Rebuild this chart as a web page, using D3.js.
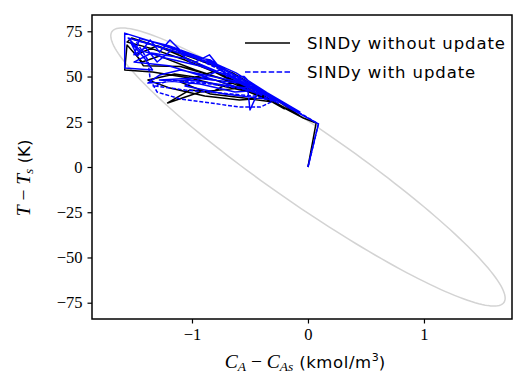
<!DOCTYPE html>
<html>
<head>
<meta charset="utf-8">
<script src="https://cdn.jsdelivr.net/npm/d3@7"></script>
<style>
  body { margin: 0; background: #fff; }
  svg { display: block; }
</style>
</head>
<body>
<svg id="chart" width="513" height="374"></svg>
<script>
const WIDTH = 513
const HEIGHT = 374

// Data (C_A - C_As, T - T_s)
const xTicks = [-1, 0, 1]
const yTicks = [-75, -50, -25, 0, 25, 50, 75]

// SINDy without update
const noUpdateX = [0, 0.07, -0.04, -0.40, -0.67, -0.97, -1.28, -1.52, -1.56, -1.36, -1.06, -0.72, -0.37, -0.59, -0.89, -1.19, -1.38, -1.15, -0.80, -0.50, -0.74, -1.02, -1.34, -1.58, -1.56, -1.43, -1.28, -0.97, -0.66, -0.83, -1.02, -1.21, -0.93, -0.59, -0.30, -0.55, -0.84, -1.10, -0.80, -0.46, -0.26, -0.07, -0.30, -0.65, -1.00, -1.30, -1.48, -1.42, -1.10, -0.75, -0.42, -0.20]
const noUpdateY = [0, 24.3, 27.1, 39.2, 48.1, 58.0, 66.3, 71.3, 69.1, 65.7, 59.1, 50.3, 38.1, 37.0, 39.2, 43.6, 48.1, 51.4, 48.1, 41.4, 44.8, 49.2, 52.5, 53.6, 67.4, 58.0, 61.3, 53.6, 47.0, 41.4, 42.5, 35.4, 41.4, 43.6, 35.9, 38.1, 40.3, 47.0, 53.0, 42.5, 34.8, 28.2, 38.5, 52.0, 60.5, 67.0, 62.0, 56.0, 55.5, 49.0, 40.0, 32.0]

// closed-loop trajectory (solid blue)
const closedX = [0, 0.09, -0.16, -0.48, -0.72, -0.97, -1.28, -1.58, -1.58, -1.34, -1.41, -1.53, -1.47, -1.36, -1.28, -1.19, -1.06, -0.84, -0.67, -0.50, -0.76, -1.10, -1.28, -1.38, -1.02, -0.67, -0.52, -0.50, -0.43, -0.59, -0.93, -1.23, -1.45, -1.55, -1.19, -0.80, -0.40, -0.63, -0.93, -1.28, -0.97, -0.59, -0.28, -0.72, -1.06, -0.76, -0.33, -0.07, -0.35, -0.62, -0.90, -1.20, -1.45, -1.50, -1.40, -1.30, -1.15, -1.00, -0.85, -0.70, -0.55, -0.40, -0.60, -0.90, -1.20, -1.50, -1.35, -1.05, -0.75, -0.45, -0.25]
const closedY = [0, 23.8, 32.6, 45.3, 53.6, 60.8, 68.0, 74.0, 54.7, 53.6, 60.2, 69.1, 61.3, 70.2, 63.5, 70.2, 61.9, 59.1, 51.9, 45.9, 49.2, 53.6, 50.8, 46.4, 48.1, 44.8, 43.6, 31.5, 41.4, 48.1, 55.8, 60.2, 64.6, 71.3, 64.6, 56.9, 42.5, 41.4, 45.9, 48.1, 49.2, 46.4, 37.0, 40.3, 44.8, 53.6, 39.2, 30.4, 41.0, 52.0, 60.0, 67.0, 71.0, 62.0, 66.0, 58.0, 66.0, 57.0, 62.0, 50.0, 50.0, 40.0, 44.0, 50.0, 56.0, 58.0, 63.0, 60.0, 52.0, 43.0, 35.0]

// SINDy with update
const updateX = [0, 0.09, -0.48, -0.97, -1.36, -1.49, -1.38, -1.36, -1.30, -1.10, -0.84, -0.59, -0.41, -0.30, -0.46, -0.76, -1.06, -1.32, -1.19, -0.84, -0.50, -0.28]
const updateY = [0, 23.8, 45.3, 60.2, 68.0, 70.2, 59.1, 48.1, 41.4, 37.6, 35.4, 33.1, 33.1, 36.5, 39.2, 40.9, 42.5, 44.8, 48.1, 45.9, 42.5, 35.9]

// constraint ellipse
const ellipseHalfX = 1.70
const ellipseMajorY = -72.5
const ellipseMinorY = 25.5

const seriesNames = ["SINDy without update", "SINDy with update"]

// Scales
const margin = { top: 15, right: 1, bottom: 55, left: 92 }
const x = d3.scaleLinear([-1.862, 1.759], [margin.left, WIDTH - margin.right])
const y = d3.scaleLinear([-84, 84], [HEIGHT - margin.bottom, margin.top])

const svg = d3.select("#chart")
const plot = svg.append("g")

const line = d3.line().x(d => x(d[0])).y(d => y(d[1]))

// Ellipse
const ellipsePts = d3.range(0, 361, 2).map(deg => {
  const t = deg * Math.PI / 180
  return [ellipseHalfX * Math.cos(t), ellipseMajorY * Math.cos(t) + ellipseMinorY * Math.sin(t)]
})
plot.append("path")
  .attr("d", line(ellipsePts))
  .attr("fill", "none")
  .attr("stroke", "#d3d3d3")
  .attr("stroke-width", 1.5)

const zip = (X, Y) => X.map((v, i) => [v, Y[i]])

plot.append("path")
  .attr("d", line(zip(noUpdateX, noUpdateY)))
  .attr("fill", "none")
  .attr("stroke", "#000")
  .attr("stroke-width", 1.5)
  .attr("stroke-linejoin", "round")

plot.append("path")
  .attr("d", line(zip(closedX, closedY)))
  .attr("fill", "none")
  .attr("stroke", "#0000ff")
  .attr("stroke-width", 1.5)
  .attr("stroke-linejoin", "round")

plot.append("path")
  .attr("d", line(zip(updateX, updateY)))
  .attr("fill", "none")
  .attr("stroke", "#0000ff")
  .attr("stroke-width", 1.5)
  .attr("stroke-dasharray", "4,1.8")

// Axes
const serif = "'Liberation Serif', 'DejaVu Serif', serif"
const sans = "'DejaVu Sans', sans-serif"
const fmt = d => (d < 0 ? "\u2212" + Math.abs(d) : String(d))

const xAxis = svg.append("g")
  .attr("transform", `translate(0,${HEIGHT - margin.bottom})`)
  .call(d3.axisBottom(x).tickValues(xTicks).tickSize(4.5).tickPadding(5).tickFormat(fmt))
const yAxis = svg.append("g")
  .attr("transform", `translate(${margin.left},0)`)
  .call(d3.axisLeft(y).tickValues(yTicks).tickSize(4.5).tickPadding(5).tickFormat(fmt))

for (const g of [xAxis, yAxis]) {
  g.select(".domain").remove()
  g.selectAll(".tick line").attr("stroke", "#000").attr("stroke-width", 1.2)
  g.selectAll(".tick text").attr("font-family", serif).attr("font-size", 16.5).attr("fill", "#000")
}

svg.append("rect")
  .attr("x", margin.left)
  .attr("y", margin.top)
  .attr("width", WIDTH - margin.right - margin.left)
  .attr("height", HEIGHT - margin.bottom - margin.top)
  .attr("fill", "none")
  .attr("stroke", "#000")
  .attr("stroke-width", 1.5)

// Axis labels
const xl = svg.append("text")
  .attr("x", (margin.left + WIDTH - margin.right) / 2 + 3)
  .attr("y", 368)
  .attr("text-anchor", "middle")
  .attr("font-size", 19.5)
  .attr("fill", "#000")
xl.append("tspan").attr("font-family", serif).attr("font-style", "italic").text("C")
xl.append("tspan").attr("font-family", serif).attr("font-style", "italic").attr("font-size", 13.5).attr("dy", 3).text("A")
xl.append("tspan").attr("font-family", serif).attr("dy", -3).text(" \u2212 ")
xl.append("tspan").attr("font-family", serif).attr("font-style", "italic").text("C")
xl.append("tspan").attr("font-family", serif).attr("font-style", "italic").attr("font-size", 13.5).attr("dy", 3).text("As")
xl.append("tspan").attr("font-family", sans).attr("font-size", 16.5).attr("dy", -3).attr("letter-spacing", 0.6).text(" (kmol/m")
xl.append("tspan").attr("font-family", sans).attr("font-size", 11).attr("dy", -7).text("3")
xl.append("tspan").attr("font-family", sans).attr("font-size", 16.5).attr("dy", 7).text(")")

const yl = svg.append("text")
  .attr("transform", `translate(30,${(margin.top + HEIGHT - margin.bottom) / 2 + 11}) rotate(-90)`)
  .attr("text-anchor", "middle")
  .attr("font-size", 19.5)
  .attr("fill", "#000")
yl.append("tspan").attr("font-family", serif).attr("font-style", "italic").text("T")
yl.append("tspan").attr("font-family", serif).text(" \u2212 ")
yl.append("tspan").attr("font-family", serif).attr("font-style", "italic").text("T")
yl.append("tspan").attr("font-family", serif).attr("font-style", "italic").attr("font-size", 13.5).attr("dy", 3).text("s")
yl.append("tspan").attr("font-family", sans).attr("font-size", 16.5).attr("dy", -3).text(" (K)")

// Legend
const legend = svg.append("g").attr("transform", "translate(245,43)")
seriesNames.forEach((name, i) => {
  const row = legend.append("g").attr("transform", `translate(0,${i * 29})`)
  row.append("line")
    .attr("x1", 0).attr("x2", 45).attr("y1", 0).attr("y2", 0)
    .attr("stroke", i ? "#0000ff" : "#000")
    .attr("stroke-width", 1.5)
    .attr("stroke-dasharray", i ? "5.5,2.4" : null)
  row.append("text")
    .attr("x", 62).attr("y", 6)
    .attr("font-family", sans)
    .attr("font-size", 16.5)
    .attr("letter-spacing", 0.9)
    .attr("fill", "#000")
    .text(name)
})
</script>
</body>
</html>
